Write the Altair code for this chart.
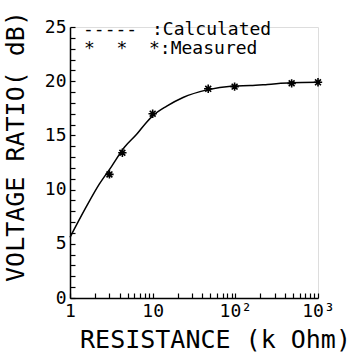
import altair as alt
import pandas as pd

# Calculated curve
calc_r = [1, 1.57, 2.26, 3.16, 4.55, 6.4, 8.4, 10, 14.8, 23.3, 45.4, 94.3, 152, 245, 469, 1000]
calc_v = [5.6, 8.4, 10.5, 12.1, 13.9, 15.1, 16.2, 16.8, 17.7, 18.5, 19.2, 19.55, 19.6, 19.7, 19.85, 19.9]

# Measured points
meas_r = [3, 4.3, 10, 47, 98, 480, 1000]
meas_v = [11.4, 13.4, 17.0, 19.3, 19.5, 19.8, 19.9]

x_major = [1, 10, 100, 1000]
x_minor = [1, 2, 3, 4, 5, 6, 7, 8, 9, 10, 20, 30, 40, 50, 60, 70, 80, 90,
           100, 200, 300, 400, 500, 600, 700, 800, 900, 1000]
y_major = [0, 5, 10, 15, 20, 25]
y_minor = list(range(0, 26))

NB = "\u00a0"
legend_dash = "-----"
legend_calc = ":Calculated"
legend_meas = "*" + NB * 2 + "*" + NB * 2 + "*:Measured"

FONT = "DejaVu Sans Mono"
W, H = 248, 271

calc = pd.DataFrame({"r": calc_r, "v": calc_v})
meas = pd.DataFrame({"r": meas_r, "v": meas_v})

xscale = alt.Scale(type="log", domain=[1, 1000], nice=False)
yscale = alt.Scale(domain=[0, 25], nice=False, zero=False)

label_expr = ("datum.value == 1 ? '1' : datum.value == 10 ? '10' : "
              "datum.value == 100 ? '10²' : '10³'")

line = alt.Chart(calc).mark_line(color="black", strokeWidth=1.5, interpolate="monotone").encode(
    x=alt.X("r:Q", scale=xscale,
            axis=alt.Axis(values=x_major, labelExpr=label_expr, ticks=False, grid=False,
                          domainColor="black", domainWidth=1.5,
                          labelFont=FONT, labelFontSize=18, labelColor="black",
                          labelPadding=4, labelFlush=False, labelOverlap=False,
                          title="RESISTANCE (k Ohm)", titleFont=FONT, titleFontSize=25,
                          titleFontWeight="normal", titleColor="black",
                          titleX=145, titleY=49, titleBaseline="alphabetic")),
    y=alt.Y("v:Q", scale=yscale,
            axis=alt.Axis(values=y_major, ticks=False, grid=False,
                          domainColor="black", domainWidth=1.5,
                          labelFont=FONT, labelFontSize=18, labelColor="black",
                          labelPadding=4, labelFlush=False, labelOverlap=False,
                          title="VOLTAGE RATIO( dB)", titleFont=FONT, titleFontSize=25,
                          titleFontWeight="normal", titleColor="black",
                          titleX=-42, titleY=119, titleAngle=270, titleBaseline="bottom")),
)

star = "M-1,0L1,0M0,-1L0,1M-0.7,-0.7L0.7,0.7M-0.7,0.7L0.7,-0.7"

points = alt.Chart(meas).mark_point(shape=star, size=70, filled=False, color="black",
                                     strokeWidth=1.6, opacity=1).encode(
    x=alt.X("r:Q", scale=xscale,
            axis=alt.Axis(orient="top", offset=-H, values=x_minor, labels=False,
                          domain=False, grid=False, ticks=True, tickSize=5,
                          tickColor="black", tickWidth=1.2, title=None)),
    y=alt.Y("v:Q", scale=yscale,
            axis=alt.Axis(orient="right", offset=-W, values=y_minor, labels=False,
                          domain=False, grid=False, ticks=True, tickSize=5,
                          tickColor="black", tickWidth=1.2, title=None)),
)

def legend_text(txt, px, py):
    return alt.Chart(pd.DataFrame({"t": [txt]})).mark_text(
        font=FONT, fontSize=18, align="left", baseline="alphabetic", color="black"
    ).encode(text="t:N", x=alt.value(px), y=alt.value(py))

legend = [
    legend_text(legend_dash, 13, 8),
    legend_text(legend_calc, 82, 8),
    legend_text(legend_meas, 14, 27),
]

chart = alt.layer(line, points, *legend).resolve_axis(
    x="independent", y="independent"
).properties(
    width=W, height=H,
    autosize=alt.AutoSizeParams(type="none"),
    padding={"left": 70, "top": 27, "right": 35, "bottom": 58},
).configure_view(stroke=None).configure(background="white")

chart.save("out.html", embed_options={"renderer": "svg", "actions": False})
